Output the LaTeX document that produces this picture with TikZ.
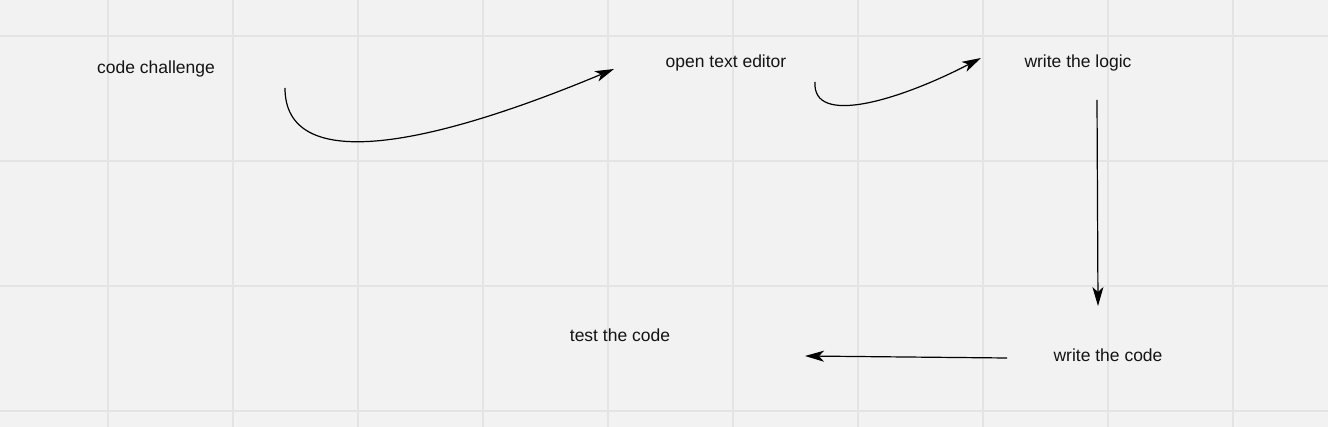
\documentclass[tikz,border=0pt]{standalone}
\usepackage{fontspec}
\setmainfont{Liberation Sans}
\usetikzlibrary{arrows.meta}
\definecolor{paper}{HTML}{F2F2F2}
\definecolor{gridline}{HTML}{E4E4E4}
\definecolor{ink}{HTML}{141414}
\tikzset{
  label/.style={text=ink, font=\fontsize{17.5}{21}\selectfont, inner sep=0pt},
  flow/.style={line width=1.2pt, draw=black, -{Stealth[length=19pt, width=11pt, inset=5pt]}}
}

\begin{document}
\begin{tikzpicture}[x=1pt, y=-1pt]
			%%%%% START %%%%%
			
			\fill[paper] (0, 0) rectangle (1328, 427);
			\useasboundingbox (0, 0) rectangle (1328, 427);
			
			\foreach \gx in {108, 233, ..., 1233}
				\draw[gridline, line width=1.5pt] (\gx, 0) -- (\gx, 427);
			\foreach \gy in {36, 161, 286, 411}
				\draw[gridline, line width=1.5pt] (0, \gy) -- (1328, \gy);
			
			\node[label] (challenge) at (156, 68.5) {code challenge};
			\node[label] (editor) at (726, 62.5) {open text editor};
			\node[label] (logic) at (1078, 62.5) {write the logic};
			\node[label] (code) at (1108, 355.5) {write the code};
			\node[label] (test) at (620, 335.5) {test the code};
			
			\coordinate (challenge out) at (285, 88);
			\coordinate (editor in) at (614, 69);
			\coordinate (editor out) at (815, 82);
			\coordinate (logic in) at (981, 58);
			\coordinate (logic out) at (1097, 100);
			\coordinate (code in) at (1098, 306);
			\coordinate (code out) at (1007, 358);
			\coordinate (test in) at (805, 356);
			
			\draw[flow] (challenge out) .. controls (285, 172) and (420, 150) .. (editor in);
			\draw[flow] (editor out) .. controls (812, 127) and (900, 100) .. (logic in);
			\draw[flow] (logic out) -- (code in);
			\draw[flow] (code out) -- (test in);
			
			%%%%% END %%%%%
\end{tikzpicture}
\end{document}
